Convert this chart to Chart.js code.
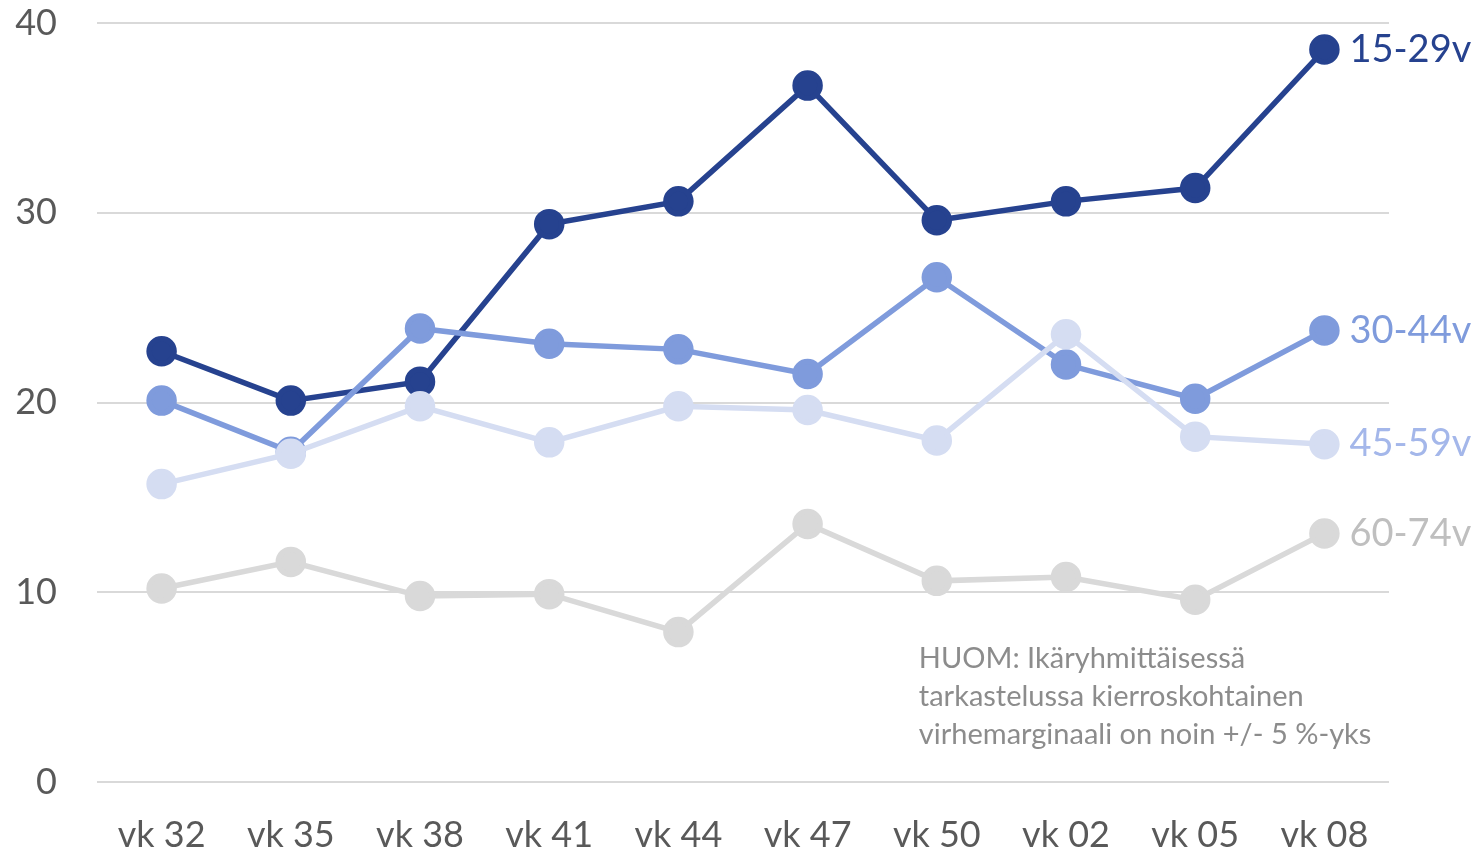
<!DOCTYPE html>
<html>
<head>
<meta charset="utf-8">
<script src="https://cdn.jsdelivr.net/npm/chart.js@4/dist/chart.umd.min.js"></script>
<style>
  html, body { margin: 0; padding: 0; background: #fff; }
  #wrap { width: 1481px; height: 853px; }
</style>
</head>
<body>
<div id="wrap"><canvas id="chart" width="1481" height="853"></canvas></div>
<script>
const weeks = ['vk 32', 'vk 35', 'vk 38', 'vk 41', 'vk 44', 'vk 47', 'vk 50', 'vk 02', 'vk 05', 'vk 08'];
const age15to29 = [22.7, 20.1, 21.1, 29.4, 30.6, 36.7, 29.6, 30.6, 31.3, 38.6];
const age30to44 = [20.1, 17.4, 23.9, 23.1, 22.8, 21.5, 26.6, 22.0, 20.2, 23.8];
const age45to59 = [15.7, 17.3, 19.8, 17.9, 19.8, 19.6, 18.0, 23.6, 18.2, 17.8];
const age60to74 = [10.2, 11.6, 9.8, 9.9, 7.9, 13.6, 10.6, 10.8, 9.6, 13.1];
const yTicks = [0, 10, 20, 30, 40];
const noteLines = ['HUOM: Ikäryhmittäisessä', 'tarkastelussa kierroskohtainen', 'virhemarginaali on noin +/- 5 %-yks'];

const FONT = 'Lato, "Open Sans", sans-serif';

function series(label, data, color, labelColor, order) {
  return {
    label, data, order,
    borderColor: color, backgroundColor: color,
    pointBackgroundColor: color, pointBorderColor: color,
    borderWidth: 5.5, pointRadius: 12.5, pointHoverRadius: 12.5,
    tension: 0, labelColor
  };
}

// labels at the line ends and the note text
const endLabels = {
  id: 'endLabels',
  afterDatasetsDraw(chart) {
    const ctx = chart.ctx;
    ctx.save();
    ctx.font = '38px ' + FONT;
    ctx.textBaseline = 'middle';
    ctx.textAlign = 'left';
    chart.data.datasets.forEach((ds, i) => {
      const pts = chart.getDatasetMeta(i).data;
      const last = pts[pts.length - 1];
      ctx.fillStyle = ds.labelColor;
      ctx.fillText(ds.label, last.x + 25, last.y);
    });
    ctx.font = '29px ' + FONT;
    ctx.fillStyle = '#8c8c8c';
    const xs = chart.scales.x, ys = chart.scales.y;
    noteLines.forEach((t, i) => {
      ctx.fillText(t, xs.getPixelForValue(6) - 18, ys.getPixelForValue(6.5) + i * 38);
    });
    ctx.restore();
  }
};

new Chart(document.getElementById('chart'), {
  type: 'line',
  data: {
    labels: weeks,
    datasets: [
      series('15-29v', age15to29, '#26428f', '#26428f', 4),
      series('30-44v', age30to44, '#7f9bdc', '#7f9bdc', 3),
      series('45-59v', age45to59, '#d5ddf2', '#a4b7ea', 2),
      series('60-74v', age60to74, '#d9d9d9', '#bfbfbf', 1)
    ]
  },
  options: {
    responsive: false,
    animation: false,
    layout: { padding: { left: 0, right: 92, top: 23, bottom: 0 } },
    plugins: { legend: { display: false }, tooltip: { enabled: false } },
    scales: {
      x: {
        offset: true,
        grid: { display: false },
        border: { display: false },
        afterFit(s) { s.height = 71; s.paddingLeft = 0; s.paddingRight = 0; },
        ticks: { color: '#595959', font: { family: FONT, size: 36 }, padding: 24 }
      },
      y: {
        min: 0, max: 40,
        afterFit(s) { s.width = 97; s.paddingTop = 0; s.paddingBottom = 0; },
        afterBuildTicks(s) { s.ticks = yTicks.map(v => ({ value: v })); },
        grid: { color: '#d9d9d9', lineWidth: 2, drawTicks: false },
        border: { display: false },
        ticks: { color: '#595959', font: { family: FONT, size: 36 }, padding: 40 }
      }
    }
  },
  plugins: [endLabels]
});
</script>
</body>
</html>
